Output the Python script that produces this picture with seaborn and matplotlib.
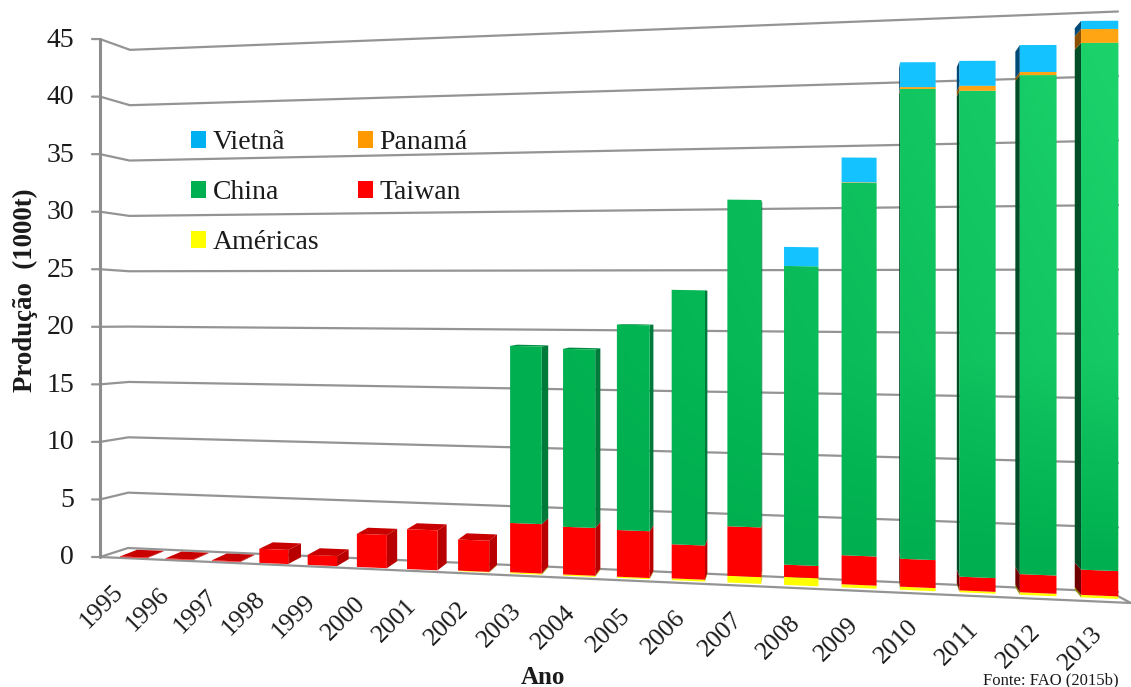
import numpy as np
import pandas as pd
import seaborn as sns
import matplotlib
matplotlib.use("Agg")
import matplotlib.pyplot as plt
from matplotlib.patches import Polygon, Patch
from matplotlib.path import Path
from matplotlib.transforms import Transform, Affine2D, IdentityTransform

# Production per year, thousand tonnes
years = list(range(1995, 2014))
americas = [0, 0, 0, 0, 0, 0, 0, 0.05, 0.1, 0.1, 0.1, 0.15, 0.55, 0.65, 0.25, 0.25, 0.15, 0.2, 0.2]
taiwan = [0.05, 0.05, 0.05, 1.2, 0.85, 2.8, 3.35, 2.6, 4.1, 3.95, 3.85, 2.8, 4.05, 1.0, 2.35, 2.25, 1.1, 1.45, 2.0]
china = [0, 0, 0, 0, 0, 0, 0, 0, 14.75, 14.75, 16.95, 20.9, 26.7, 24.3, 30.15, 37.85, 38.95, 39.8, 41.8]
panama = [0, 0, 0, 0, 0, 0, 0, 0, 0, 0, 0, 0, 0, 0, 0.05, 0.15, 0.4, 0.25, 1.1]
vietnam = [0, 0, 0, 0, 0, 0, 0, 0, 0, 0, 0, 0, 0, 1.55, 2.0, 2.0, 2.0, 2.15, 0.65]
value_ticks = [0, 5, 10, 15, 20, 25, 30, 35, 40, 45]

series_names = ["Américas", "Taiwan", "China", "Panamá", "Vietnã"]
series_values = [americas, taiwan, china, panama, vietnam]
front_colors = ["#ffff00", "#ff0000", "#00b050", "#ffa412", "#14c2ff"]
right_side_colors = ["#a8a800", "#b80000", "#007a3a", "#8a5600", "#005f8c"]
left_side_colors = ["#8a8a00", "#700000", "#004e28", "#8a5000", "#004a78"]
top_colors = ["#d8d800", "#c80000", "#008a40", "#c07a00", "#0090c8"]
legend_colors = {"Vietnã": "#00b0f0", "Panamá": "#ff9900", "China": "#00b050",
                 "Taiwan": "#ff0000", "Américas": "#ffff00"}

W, H = 1131, 687
sns.set_theme(style="white")
plt.rcParams["font.family"] = ["Liberation Serif", "DejaVu Serif"]
TEXT = "#1a1a1a"


def screen_x(c):
    return 120 + 45.06 * (c + 0.3) + 0.463 * (c + 0.3) ** 2


class PerspectiveBars(Transform):
    """Maps (category index, value) onto the tilted front plane of the bars."""
    input_dims = 2
    output_dims = 2
    is_separable = False

    def transform_non_affine(self, values):
        values = np.asarray(values, dtype=float)
        x = screen_x(values[:, 0])
        base = 557 + 0.042 * (x - 120)
        scale = 11.6 + (x - 120) / 961
        return np.column_stack((x, H - (base - scale * values[:, 1])))


projection = PerspectiveBars()
canvas = Affine2D().scale(1, -1).translate(0, H)

fig = plt.figure(figsize=(W / 100, H / 100), dpi=100, facecolor="white")
ax = fig.add_axes([0, 0, 1, 1], facecolor="none")
ax.set_axis_off()

# Walls and floor
wall = dict(color="#949494", lw=1.6, transform=canvas, zorder=1, clip_on=False,
            solid_capstyle="round", solid_joinstyle="round")
for v in value_ticks:
    front_y = 557 - 11.51 * v
    back_left = 548 - 11.07 * v
    back_right = 592 - 12.9 * v
    ax.plot([92, 100, 128 + 2 * v / 45, 1118], [front_y, front_y, back_left, back_right], **wall)
    ax.text(74, front_y + 1, str(v), ha="right", va="center", fontsize=20, color=TEXT,
            transform=canvas)
ax.plot([100, 100], [557 - 11.51 * 45, 557], color="#8c8c8c", lw=2.2, transform=canvas, zorder=1.2)
ax.plot([100, 1131, 1110], [557, 603, 592], **wall)

# Stacked front faces through seaborn, then re-projected
frame = pd.DataFrame({"Ano": [str(y) for y in years]})
running = np.zeros(len(years))
stack_bars = []
for name, vals, col in zip(series_names, series_values, front_colors):
    frame[name] = vals
    before = len(ax.patches)
    sns.barplot(data=frame, x="Ano", y=name, color=col, width=0.6, bottom=running.copy(),
                saturation=1, ax=ax, errorbar=None, zorder=3)
    stack_bars.append(ax.patches[before:])
    running += np.asarray(vals)
ax.set_xlim(-0.5, 18.5)
ax.set_ylim(0, 50)
ax.set_axis_off()


def depth_offset(x, y):
    dx = 0.025 * (800 - x) if x < 800 else -0.03 * (x - 870) if x > 870 else 0.0
    return dx, -0.026 * (y - 300)


def to_canvas(c, v):
    px = projection.transform(np.array([[c, v]]))[0]
    return px[0], H - px[1]


def shifted(pt):
    dx, dy = depth_offset(*pt)
    return pt[0] + dx, pt[1] + dy


totals = np.sum(series_values, axis=0)
green_faces = []
for k, bars in enumerate(stack_bars):
    for i, bar in enumerate(bars):
        bar.set_transform(projection)
        bar.set_clip_on(False)
        bar.set_edgecolor("none")
        v0, dv = bar.get_y(), bar.get_height()
        if dv <= 0:
            continue
        c0, c1 = bar.get_x(), bar.get_x() + bar.get_width()
        lb, rb = to_canvas(c0, v0), to_canvas(c1, v0)
        lt, rt = to_canvas(c0, v0 + dv), to_canvas(c1, v0 + dv)
        faces = []
        if depth_offset(*rb)[0] > 0:
            faces.append(([rb, rt, shifted(rt), shifted(rb)], right_side_colors[k]))
        if depth_offset(*lb)[0] < 0:
            faces.append(([lb, lt, shifted(lt), shifted(lb)], left_side_colors[k]))
        if abs(v0 + dv - totals[i]) < 1e-9 and shifted(lt)[1] < lt[1]:
            faces.append(([lt, rt, shifted(rt), shifted(lt)], top_colors[k]))
        for quad, colour in faces:
            ax.add_patch(Polygon(quad, closed=True, facecolor=colour, edgecolor="none",
                                 transform=canvas, zorder=2.5 + i * 0.001, clip_on=False))
        if k == 2:
            green_faces.append([lb, rb, rt, lt, lb])

# Lighter sheen towards the upper right of the green faces
glow_ax = fig.add_axes([0, 0, 1, 1], facecolor="none")
glow_ax.set_axis_off()
glow_ax.set_xlim(0, W)
glow_ax.set_ylim(H, 0)
yy, xx = np.mgrid[0:H, 0:W]
ramp = np.clip(0.7 * (xx - 550) / 550 + 0.3 * (500 - yy) / 500, 0, 1) ** 1.3
strength = 0.45 * ramp * np.clip((560 - yy) / 200, 0, 1)
sheen = np.zeros((H, W, 4))
sheen[..., 0], sheen[..., 1], sheen[..., 2] = 0.25, 1.0, 0.56
sheen[..., 3] = strength
image = glow_ax.imshow(sheen, extent=(0, W, H, 0), aspect="auto", interpolation="nearest")
verts, codes = [], []
for face in green_faces:
    verts += [(x, H - y) for x, y in face]
    codes += [Path.MOVETO, Path.LINETO, Path.LINETO, Path.LINETO, Path.CLOSEPOLY]
image.set_clip_path(Path(verts, codes), IdentityTransform())

# Category labels
for i, year in enumerate(years):
    centre = screen_x(i)
    ax.text(centre - 32 + 13 * i / 18, 607 + 42 * i / 18, str(year), rotation=45, ha="center",
            va="center", fontsize=18.5, color=TEXT, transform=canvas,
            rotation_mode="default")

# Axis titles and source note
ax.text(543, 677, "Ano", ha="center", va="center", fontsize=18, fontweight="bold",
        color=TEXT, transform=canvas)
ax.text(25, 290, "Produção  (1000t)", ha="center", va="center", rotation=90, fontsize=19.4,
        fontweight="bold", color=TEXT, transform=canvas)
ax.text(983, 684, "Fonte: FAO (2015b)", ha="left", va="baseline", fontsize=12, color=TEXT,
        transform=canvas, clip_on=False)

# Legend
order = ["Vietnã", "China", "Américas", "Panamá", "Taiwan"]
handles = [Patch(facecolor=legend_colors[n], edgecolor="none", label=n) for n in order]
leg = ax.legend(handles=handles, ncol=2, frameon=False, loc="upper left",
                bbox_to_anchor=(191 / W, 1 - 130 / H), bbox_transform=fig.transFigure,
                fontsize=20, handlelength=0.55, handleheight=0.55, handletextpad=0.22,
                labelspacing=0.9, columnspacing=1.4, borderpad=0, borderaxespad=0,
                labelcolor=TEXT)
leg.set_zorder(6)

fig.savefig("out.png", dpi=100, facecolor="white")
